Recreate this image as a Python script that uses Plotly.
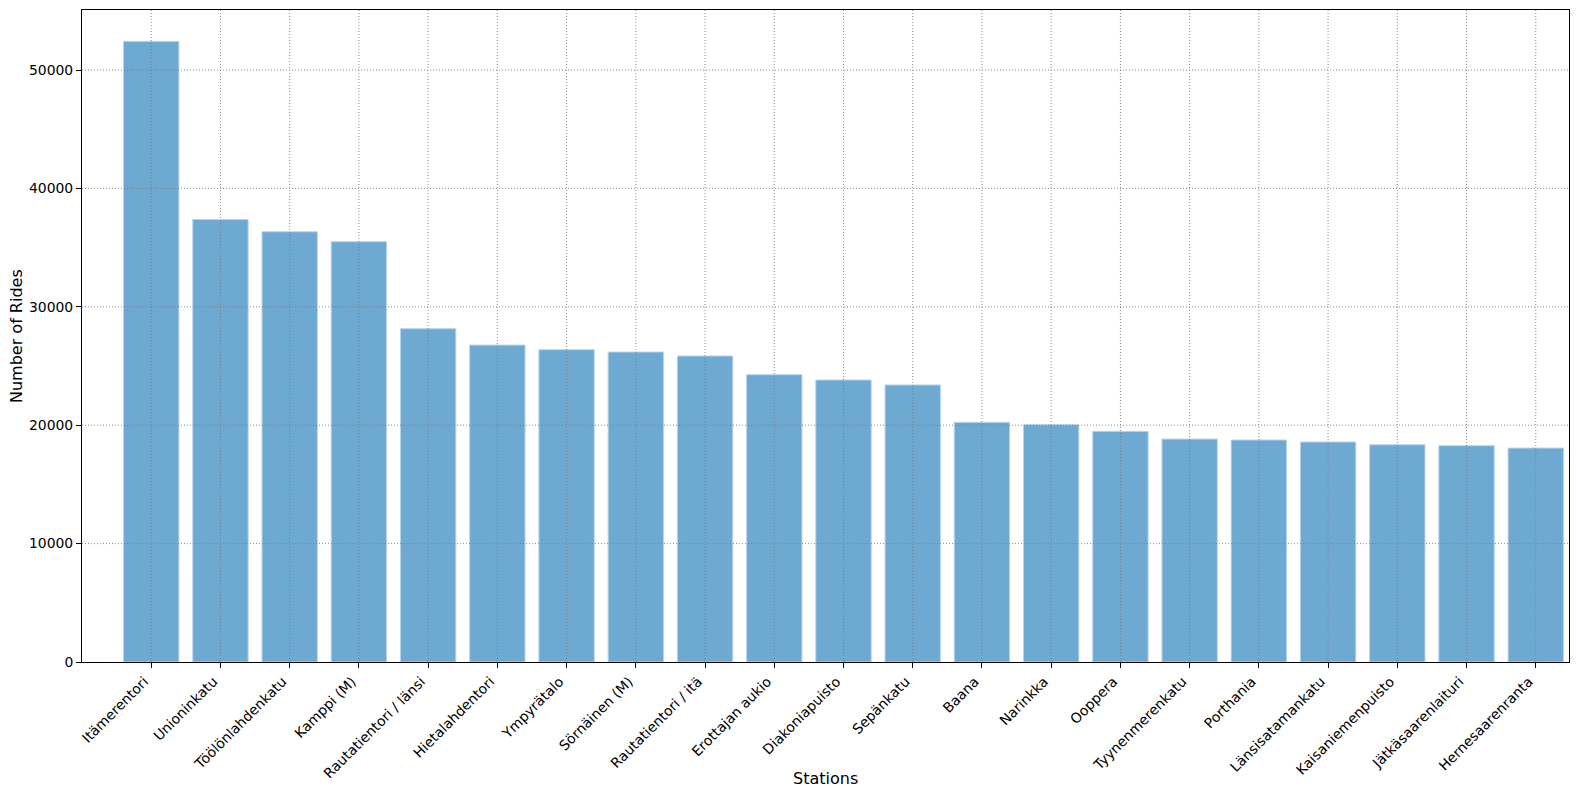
import plotly.graph_objects as go

stations = ["Itämerentori", "Unioninkatu", "Töölönlahdenkatu", "Kamppi (M)",
            "Rautatientori / länsi", "Hietalahdentori", "Ympyrätalo", "Sörnäinen (M)",
            "Rautatientori / itä", "Erottajan aukio", "Diakoniapuisto", "Sepänkatu",
            "Baana", "Narinkka", "Ooppera", "Tyynenmerenkatu", "Porthania",
            "Länsisatamankatu", "Kaisaniemenpuisto", "Jätkäsaarenlaituri", "Hernesaarenranta"]
rides = [52420, 37380, 36340, 35500, 28150, 26770, 26380, 26180, 25850, 24270, 23820,
         23400, 20240, 20040, 19480, 18830, 18750, 18580, 18350, 18270, 18070]
y_ticks = [0, 10000, 20000, 30000, 40000, 50000]

FONT = "DejaVu Sans"

fig = go.Figure()
fig.add_trace(go.Bar(
    x=stations, y=rides, width=0.8,
    marker=dict(color="#6EA9D2", line=dict(color="#B8D5EA", width=1)),
))

grid = dict(color="rgba(120,120,120,0.85)", width=1, dash="1px,2px")
shapes = []
for i in range(len(stations)):
    shapes.append(dict(type="line", xref="x", yref="paper", x0=i, x1=i, y0=0, y1=1,
                       line=grid, layer="above"))
for v in y_ticks[1:]:
    shapes.append(dict(type="line", xref="paper", yref="y", x0=0, x1=1, y0=v, y1=v,
                       line=grid, layer="above"))

annotations = [
    dict(text="Stations", xref="paper", yref="paper", x=0.5, y=0, xanchor="center",
         yanchor="middle", yshift=-116, showarrow=False,
         font=dict(family=FONT, size=16, color="black")),
    dict(text="Number of Rides", xref="paper", yref="paper", x=0, y=0.5, xanchor="center",
         yanchor="middle", xshift=-66, textangle=-90, showarrow=False,
         font=dict(family=FONT, size=16, color="black")),
]

fig.update_layout(
    width=1572, height=788,
    margin=dict(l=74, r=11, t=2, b=134),
    plot_bgcolor="white", paper_bgcolor="white",
    font=dict(family=FONT, size=14, color="black"),
    showlegend=False,
    shapes=shapes,
    annotations=annotations,
    bargap=0.2,
)
fig.update_xaxes(
    type="category", range=[-1, 20.48], tickangle=-45,
    showgrid=False, showline=True, mirror=True, linecolor="black", linewidth=1,
    ticks="outside", ticklen=5, tickcolor="black",
    tickfont=dict(family=FONT, size=13.9, color="black"),
    ticklabelshift=-7,
    automargin=False,
)
fig.update_yaxes(
    range=[0, 55070], tickvals=y_ticks, tickformat="d",
    showgrid=False, zeroline=False, showline=True, mirror=True, linecolor="black", linewidth=1,
    ticks="outside", ticklen=5, tickcolor="black",
    tickfont=dict(family=FONT, size=13.9, color="black"),
    automargin=False,
)

fig.write_html("out.html")
